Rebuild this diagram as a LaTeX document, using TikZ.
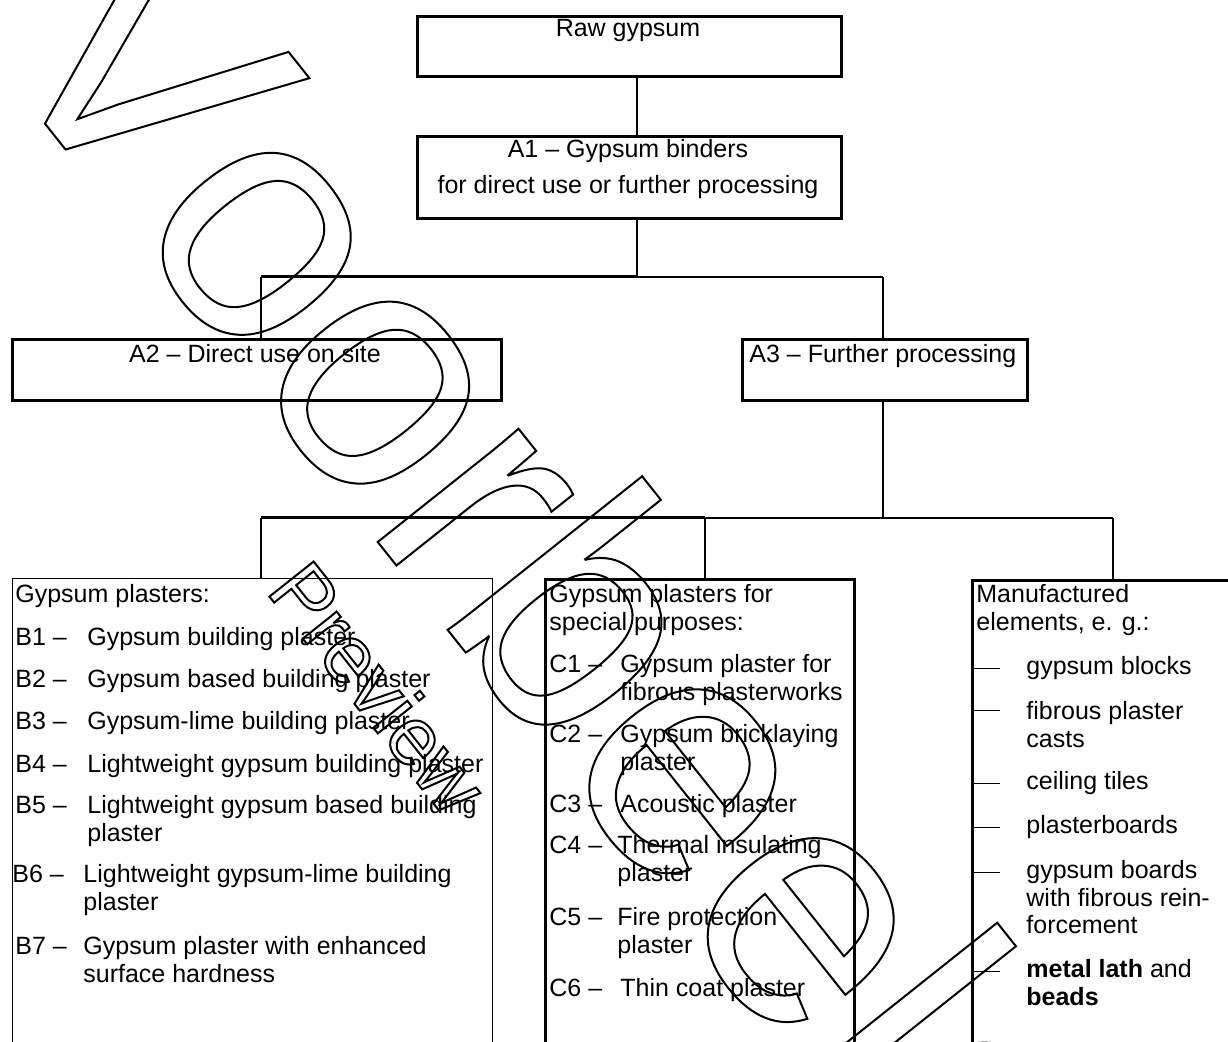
\documentclass[tikz,border=0pt]{standalone}
\usepackage{fontspec}
\setmainfont{Liberation Sans}
\newfontfamily\wmfont[Kerning=Off]{Liberation Sans}
\newcommand\ts{\fontsize{12.5}{13.75}\selectfont}
\newcommand\ml[1]{\begin{tabular}[t]{@{}l@{}}#1\end{tabular}}
\newcommand\outlineon{\special{pdf:literal direct 1 Tr 1 w}}
\newcommand\outlineoff{\special{pdf:literal direct 0 Tr}}
\begin{document}
\begin{tikzpicture}[x=0.5pt,y=-0.5pt,
  box/.style={draw, line width=1.4pt, inner sep=0pt, anchor=north west},
  thinbox/.style={draw, line width=0.5pt, inner sep=0pt, anchor=north west},
  txt/.style={font=\ts, inner sep=0pt, anchor=base west},
  ctxt/.style={font=\ts, inner sep=0pt, anchor=base},
  conn/.style={line width=1.2pt},
  connthin/.style={line width=0.9pt},
  dashmark/.style={line width=0.5pt}]
\useasboundingbox (0,0) rectangle (1228,1042);

% top boxes
\node[box, minimum width=212pt, minimum height=30pt] (raw) at (416,15) {};
\node[ctxt] (rawt) at (628,37) {Raw gypsum};
\node[box, minimum width=212pt, minimum height=41pt] (a1) at (416,135) {};
\node[ctxt] (a1t) at (628,158) {A1 -- Gypsum binders};
\node[ctxt] (a1u) at (628,194) {for direct use or further processing};
\node[box, minimum width=244.5pt, minimum height=30.5pt] (a2) at (11,338) {};
\node[ctxt] (a2t) at (255,363) {A2 -- Direct use on site};
\node[box, minimum width=142.5pt, minimum height=30.5pt] (a3) at (741,338) {};
\node[txt] (a3t) at (749,363) {A3 -- Further processing};

% lower boxes (open at the bottom edge)
\node[thinbox, minimum width=240pt, minimum height=260pt] (bb) at (12,578) {};
\node[box, minimum width=154.5pt, minimum height=260pt] (cb) at (544,578) {};
\node[box, line width=1.6pt, minimum width=160pt, minimum height=260pt] (db) at (971,579) {};

% junction coordinates
\coordinate (j1) at (637,277);
\coordinate (h1l) at (261,277);
\coordinate (h1r) at (883,277);
\coordinate (h2m) at (883,518);
\coordinate (h2l) at (261,518);
\coordinate (h2c) at (705,518);
\coordinate (h2r) at (1113,518);

% connectors
\draw[conn] (raw.south -| j1) -- (a1.north -| j1);
\draw[conn] (a1.south -| j1) -- (j1);
\draw[conn, line width=1.5pt] (j1) -- (h1l);
\draw[connthin] (j1) -- (h1r);
\draw[connthin] (h1l) -- (a2.north -| h1l);
\draw[connthin] (h1r) -- (a3.north -| h1r);
\draw[connthin] (a3.south -| h2m) -- (h2m);
\draw[conn, line width=1.5pt] (h2l) -- (h2c);
\draw[connthin] (h2c) -- (h2r);
\draw[connthin] (h2l) -- (bb.north -| h2l);
\draw[connthin] (h2c) -- (cb.north -| h2c);
\draw[connthin] (h2r) -- (db.north -| h2r);

% B column
\node[txt] (bh) at (15,603) {Gypsum plasters:};
\node[txt] (b1l) at (15,646) {B1 --};
\node[txt] (b1t) at (87,646) {Gypsum building plaster};
\node[txt] (b2l) at (15,688) {B2 --};
\node[txt] (b2t) at (87,688) {Gypsum based building plaster};
\node[txt] (b3l) at (15,730) {B3 --};
\node[txt] (b3t) at (87,730) {Gypsum-lime building plaster};
\node[txt] (b4l) at (15,773) {B4 --};
\node[txt] (b4t) at (87,773) {Lightweight gypsum building plaster};
\node[txt] (b5l) at (15,814) {B5 --};
\node[txt] (b5t) at (87,814) {\ml{Lightweight gypsum based building\\plaster}};
\node[txt] (b6l) at (12,883) {B6 --};
\node[txt] (b6t) at (83,883) {\ml{Lightweight gypsum-lime building\\plaster}};
\node[txt] (b7l) at (15,955) {B7 --};
\node[txt] (b7t) at (83,955) {\ml{Gypsum plaster with enhanced\\surface hardness}};

% C column
\node[txt] (ch) at (549,603) {\ml{Gypsum plasters for\\special purposes:}};
\node[txt] (c1l) at (549,673) {C1 --};
\node[txt] (c1t) at (620,673) {\ml{Gypsum plaster for\\fibrous plasterworks}};
\node[txt] (c2l) at (549,743) {C2 --};
\node[txt] (c2t) at (620,743) {\ml{Gypsum bricklaying\\plaster}};
\node[txt] (c3l) at (549,813) {C3 --};
\node[txt] (c3t) at (620,813) {Acoustic plaster};
\node[txt] (c4l) at (549,854) {C4 --};
\node[txt] (c4t) at (617,854) {\ml{Thermal insulating\\plaster}};
\node[txt] (c5l) at (549,926) {C5 --};
\node[txt] (c5t) at (617,926) {\ml{Fire protection\\plaster}};
\node[txt] (c6l) at (549,997) {C6 --};
\node[txt] (c6t) at (620,997) {Thin coat plaster};

% D column
\node[txt] (dh) at (976,603) {\ml{Manufactured\\elements, e. g.:}};
\node[txt] (d1) at (1026,675) {gypsum blocks};
\node[txt] (d2) at (1026,720) {\ml{fibrous plaster\\casts}};
\node[txt] (d3) at (1026,790) {ceiling tiles};
\node[txt] (d4) at (1026,834) {plasterboards};
\node[txt] (d5) at (1026,879) {\ml{gypsum boards\\with fibrous rein-\\forcement}};
\node[txt] (d6) at (1026,978) {\ml{\textbf{metal lath} and\\\textbf{beads}}};
\foreach \yy in {669,711,784,828,873,972}
  \draw[dashmark] (971,\yy) -- (1000,\yy);

% watermark
\node[rotate=-51.5, anchor=base west, inner sep=0pt,
      font=\wmfont\fontsize{171}{180}\selectfont] (wmbig) at (-16,47)
      {\outlineon Voorbeeld\outlineoff};
\node[rotate=-51.6, anchor=base west, inner sep=0pt,
      font=\wmfont\fontsize{41}{45}\selectfont] (wmsmall) at (265,591)
      {\outlineon Preview\outlineoff};
\end{tikzpicture}
\end{document}
